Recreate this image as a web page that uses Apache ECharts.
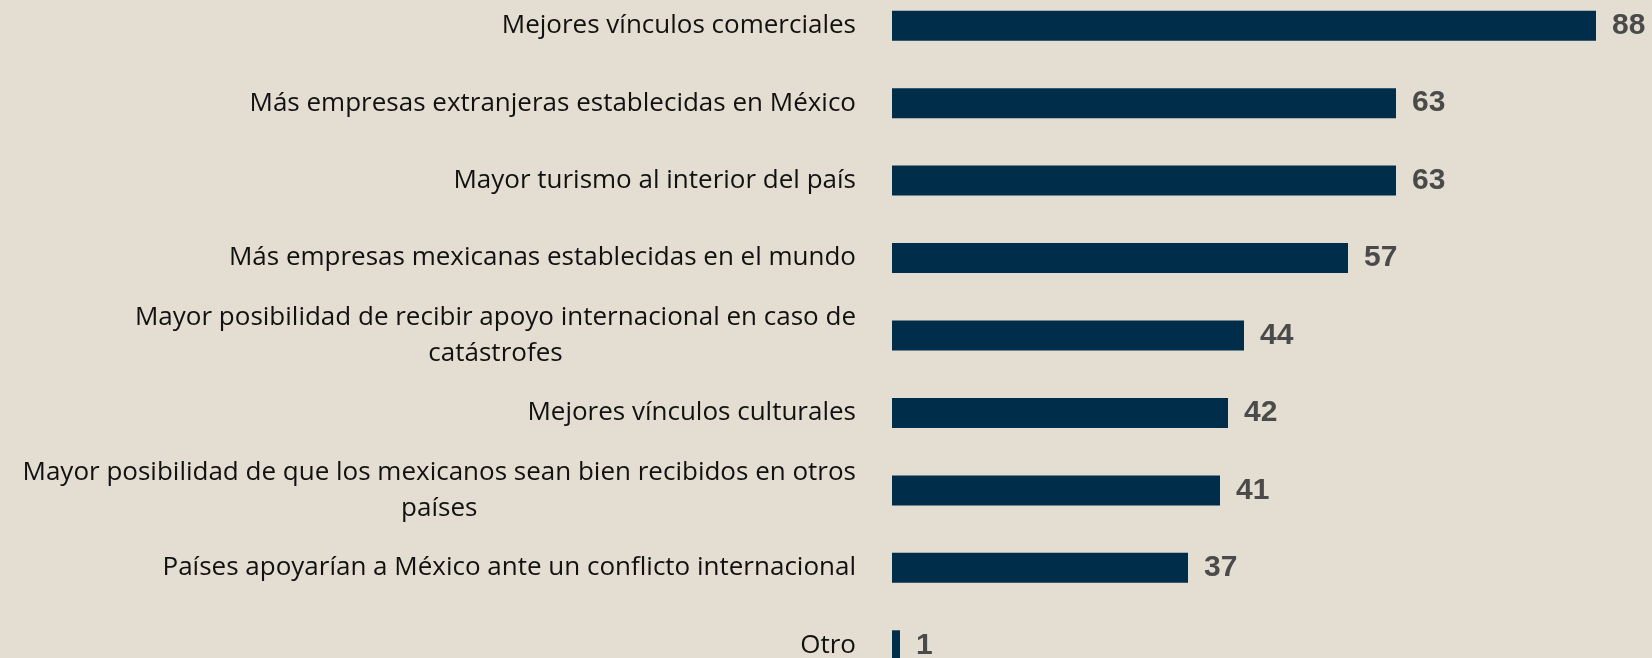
<!DOCTYPE html>
<html>
<head>
<meta charset="utf-8">
<script src="https://cdn.jsdelivr.net/npm/echarts@6/dist/echarts.min.js"></script>
<style>
html,body{margin:0;padding:0;background:#e4ddd1;overflow:hidden;}
/* panel is taller than the window: top and bottom bands are cut like in the source */
#chart-panel{width:1652px;height:697px;margin-top:-13px;}
</style>
</head>
<body>
<div id="chart-panel"></div>
<script>
var categories = [
	"Mejores vínculos comerciales",
	"Más empresas extranjeras establecidas en México",
	"Mayor turismo al interior del país",
	"Más empresas mexicanas establecidas en el mundo",
	"Mayor posibilidad de recibir apoyo internacional en caso de\ncatástrofes",
	"Mejores vínculos culturales",
	"Mayor posibilidad de que los mexicanos sean bien recibidos en otros\npaíses",
	"Países apoyarían a México ante un conflicto internacional",
	"Otro"
];
var values = [88, 63, 63, 57, 44, 42, 41, 37, 1];

var myChart = echarts.init(document.getElementById('chart-panel'));

var option = {
	backgroundColor: '#e4ddd1',
	animation: false,
	grid: {
		left: 892,
		right: 0,
		top: 0,
		bottom: 0,
		containLabel: false
	},
	xAxis: {
		type: 'value',
		min: 0,
		max: 95,
		show: false
	},
	yAxis: {
		type: 'category',
		inverse: true,
		data: categories,
		axisLine: {show: false},
		axisTick: {show: false},
		splitLine: {show: false},
		axisLabel: {
			margin: 36,
			color: '#111',
			fontFamily: 'Open Sans',
			fontSize: 26,
			lineHeight: 36,
			formatter: function (v) {
				// each line centred inside the label block
				return v.split('\n').map(function (s) { return '{c|' + s + '}'; }).join('\n');
			},
			rich: {
				c: {
					align: 'center',
					color: '#111',
					fontFamily: 'Open Sans',
					fontSize: 26,
					lineHeight: 36
				}
			}
		}
	},
	series: [{
		type: 'bar',
		data: values,
		barWidth: 30,
		itemStyle: {
			color: '#002d4a'
		},
		label: {
			show: true,
			position: 'right',
			distance: 16,
			color: '#4a4a4a',
			fontFamily: 'Liberation Sans',
			fontWeight: 'bold',
			fontSize: 30
		}
	}]
};
myChart.setOption(option);
</script>
</body>
</html>
